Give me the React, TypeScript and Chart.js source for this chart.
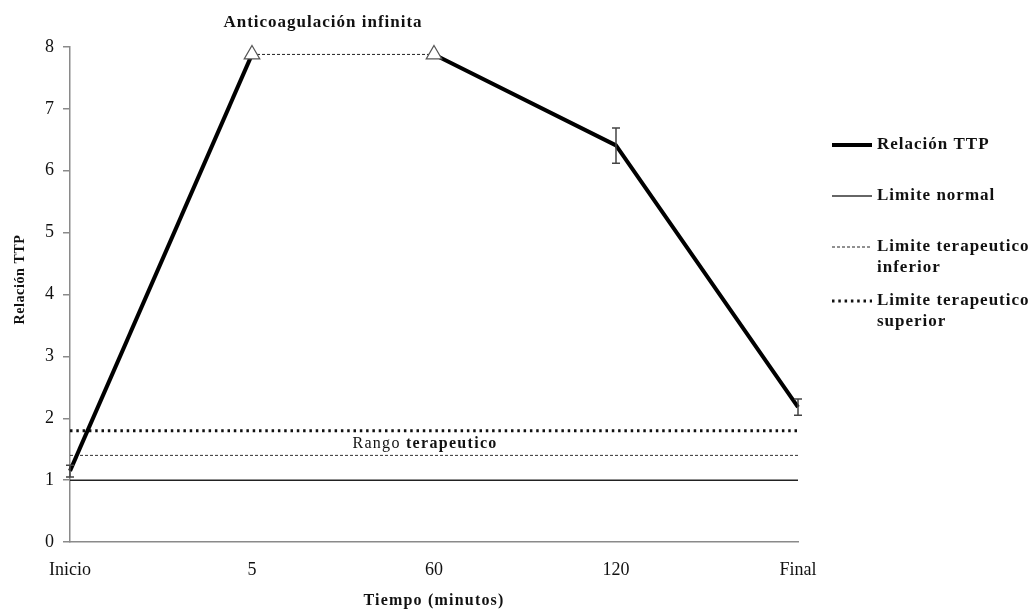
import React, { useEffect, useRef } from 'react';
import { Chart, registerables } from 'chart.js';

Chart.register(...registerables);

// ---- data ----
const categories = ['Inicio', '5', '60', '120', 'Final'];
const relacionTTP = [1.15, 7.88, 7.88, 6.41, 2.18];
const errorUpper = [1.24, null, null, 6.69, 2.31];
const errorLower = [1.05, null, null, 6.12, 2.05];
const anticoagulacionInfinita = [null, 7.88, 7.88, null, null];
const limiteNormal = [1, 1, 1, 1, 1];
const limiteInferior = [1.4, 1.4, 1.4, 1.4, 1.4];
const limiteSuperior = [1.8, 1.8, 1.8, 1.8, 1.8];
const yMin = 0;
const yMax = 8;
const yStep = 1;

const legendLabels = [
  ['Relación TTP'],
  ['Limite normal'],
  ['Limite terapeutico', 'inferior'],
  ['Limite terapeutico', 'superior'],
];

const SERIF = '"Liberation Serif", "Times New Roman", serif';

const legendStyles = [
  { dy: 98, width: 4, dash: [] as number[], color: '#000' },
  { dy: 149, width: 1.5, dash: [] as number[], color: '#333' },
  { dy: 200, width: 1, dash: [3, 2], color: '#222' },
  { dy: 254, width: 3, dash: [2.5, 3.8], color: '#111' },
];

const extrasPlugin = {
  id: 'extras',
  afterDatasetsDraw(chart: any) {
    const ctx = chart.ctx;
    const x = chart.scales.x;
    const y = chart.scales.y;
    const area = chart.chartArea;

    // error bars
    ctx.save();
    ctx.strokeStyle = '#444';
    ctx.lineWidth = 1.5;
    ctx.setLineDash([]);
    errorUpper.forEach((up, i) => {
      const lo = errorLower[i];
      if (up == null || lo == null) return;
      const px = x.getPixelForValue(i);
      const pu = y.getPixelForValue(up);
      const pl = y.getPixelForValue(lo);
      ctx.beginPath();
      ctx.moveTo(px, pu);
      ctx.lineTo(px, pl);
      ctx.moveTo(px - 4, pu);
      ctx.lineTo(px + 4, pu);
      ctx.moveTo(px - 4, pl);
      ctx.lineTo(px + 4, pl);
      ctx.stroke();
    });
    ctx.restore();

    // annotations
    ctx.save();
    ctx.fillStyle = '#111';
    ctx.textBaseline = 'middle';
    ctx.textAlign = 'center';
    ctx.letterSpacing = '1px';
    ctx.font = `bold 17px ${SERIF}`;
    const ax = x.getPixelForValue(1) + 71;
    ctx.fillText('Anticoagulación infinita', ax, area.top - 24);

    // Rango terapeutico (mixed weights)
    const part1 = 'Rango ';
    const part2 = 'terapeutico';
    ctx.letterSpacing = '1.3px';
    ctx.font = `16px ${SERIF}`;
    const w1 = ctx.measureText(part1).width;
    ctx.font = `bold 16px ${SERIF}`;
    const w2 = ctx.measureText(part2).width;
    const cx = x.getPixelForValue(2) - 9;
    const cy = y.getPixelForValue((limiteInferior[0] + limiteSuperior[0]) / 2) + 1;
    const start = cx - (w1 + w2) / 2;
    ctx.textAlign = 'left';
    ctx.font = `16px ${SERIF}`;
    ctx.fillText(part1, start, cy);
    ctx.font = `bold 16px ${SERIF}`;
    ctx.fillText(part2, start + w1, cy);

    // axis titles
    ctx.textAlign = 'center';
    ctx.letterSpacing = '1.2px';
    ctx.font = `bold 16px ${SERIF}`;
    ctx.fillText('Tiempo (minutos)', (area.left + area.right) / 2, 601);
    ctx.save();
    ctx.letterSpacing = '0.6px';
    ctx.font = `bold 14px ${SERIF}`;
    ctx.translate(20, (area.top + area.bottom) / 2 - 15);
    ctx.rotate(-Math.PI / 2);
    ctx.fillText('Relación TTP', 0, 0);
    ctx.restore();

    // legend
    const lx0 = area.right + 34;
    const lx1 = lx0 + 40;
    const tx = lx1 + 5;
    legendLabels.forEach((lines, i) => {
      const st = legendStyles[i];
      const ly = area.top + st.dy;
      ctx.beginPath();
      ctx.strokeStyle = st.color;
      ctx.lineWidth = st.width;
      ctx.setLineDash(st.dash);
      ctx.moveTo(lx0, ly);
      ctx.lineTo(lx1, ly);
      ctx.stroke();
      ctx.setLineDash([]);
      ctx.fillStyle = '#111';
      ctx.textAlign = 'left';
      ctx.letterSpacing = '1px';
      ctx.font = `bold 17px ${SERIF}`;
      lines.forEach((t, j) => {
        ctx.fillText(t, tx, ly + j * 21);
      });
    });
    ctx.restore();
  },
};

export default function App() {
  const canvasRef = useRef<HTMLCanvasElement | null>(null);

  useEffect(() => {
    if (!canvasRef.current) return;
    const chart = new Chart(canvasRef.current, {
      type: 'line',
      data: {
        labels: categories,
        datasets: [
          {
            label: 'Anticoagulación infinita',
            data: anticoagulacionInfinita,
            borderColor: '#222',
            borderWidth: 1,
            borderDash: [3, 2],
            pointStyle: 'triangle',
            pointRadius: 9,
            pointBackgroundColor: '#fff',
            pointBorderColor: '#555',
            pointBorderWidth: 1.2,
            spanGaps: false,
            clip: false,
          },
          {
            label: 'Relación TTP',
            data: relacionTTP,
            borderColor: '#000',
            borderWidth: 4,
            pointRadius: 0,
            borderJoinStyle: 'round',
            clip: false,
            segment: {
              borderColor: (c: any) => (c.p0DataIndex === 1 ? 'rgba(0,0,0,0)' : undefined),
            },
          },
          {
            label: 'Limite normal',
            data: limiteNormal,
            borderColor: '#222',
            borderWidth: 1.5,
            pointRadius: 0,
          },
          {
            label: 'Limite terapeutico inferior',
            data: limiteInferior,
            borderColor: '#333',
            borderWidth: 1,
            borderDash: [3, 2],
            pointRadius: 0,
          },
          {
            label: 'Limite terapeutico superior',
            data: limiteSuperior,
            borderColor: '#111',
            borderWidth: 3,
            borderDash: [2.5, 3.8],
            pointRadius: 0,
          },
        ],
      },
      options: {
        animation: false,
        responsive: true,
        maintainAspectRatio: false,
        layout: { padding: { left: 8, right: 231, top: 47, bottom: 0 } },
        plugins: {
          legend: { display: false },
          tooltip: { enabled: false },
          title: { display: false },
        },
        scales: {
          x: {
            offset: false,
            grid: { display: false, drawTicks: false },
            border: { display: true, color: '#8a8a8a', width: 1.5 },
            ticks: {
              color: '#111',
              font: { family: SERIF, size: 18 },
              padding: 17,
              maxRotation: 0,
              autoSkip: false,
            },
            afterFit: (s: any) => {
              s.height = 68;
            },
          },
          y: {
            min: yMin,
            max: yMax,
            ticks: {
              stepSize: yStep,
              color: '#111',
              font: { family: SERIF, size: 18 },
              padding: 9,
            },
            grid: {
              display: true,
              drawOnChartArea: false,
              drawTicks: true,
              tickLength: 7,
              color: '#8a8a8a',
              lineWidth: 1.5,
            },
            border: { display: true, color: '#8a8a8a', width: 1.5 },
            afterFit: (s: any) => {
              s.width = 62;
            },
          },
        },
      },
      plugins: [extrasPlugin],
    });
    return () => chart.destroy();
  }, []);

  return (
    <div style={{ position: 'fixed', left: 0, top: 0, width: 1029, height: 610, background: '#fff' }}>
      <canvas ref={canvasRef} />
    </div>
  );
}
